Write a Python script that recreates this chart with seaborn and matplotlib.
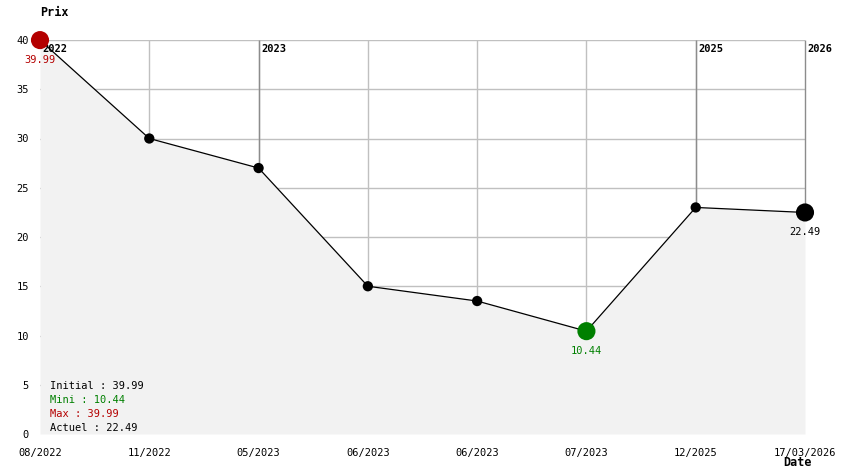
import numpy as np
import pandas as pd
import matplotlib
matplotlib.use("Agg")
import matplotlib.pyplot as plt
import seaborn as sns

# ── données ───────────────────────────────────────────────────────────────────
dates  = ["08/2022", "11/2022", "05/2023", "06/2023", "06/2023", "07/2023", "12/2025", "17/03/2026"]
prices = [39.99, 30.0, 27.0, 15.0, 13.5, 10.44, 23.0, 22.49]
years     = ["2022", "2023", "2025", "2026"]
years_pos = [0, 2, 6, 7]
y_ticks   = [0, 5, 10, 15, 20, 25, 30, 35, 40]

RED   = "#b40000"
GREEN = "#008000"
MONO  = "DejaVu Sans Mono"

sns.set_style("white")
plt.rcParams['font.family'] = [MONO]
plt.rcParams['text.color'] = "black"
plt.rcParams['xtick.color'] = "black"
plt.rcParams['ytick.color'] = "black"

df = pd.DataFrame({"idx": np.arange(len(dates)), "prix": prices, "date": dates})
i_min = int(np.argmin(prices))
i_max = int(np.argmax(prices))
i_last = len(prices) - 1

fig = plt.figure(figsize=(8.44, 4.74), dpi=100)
ax = fig.add_axes([40 / 844, 40 / 474, 765 / 844, 394 / 474])

# grille
for y in y_ticks[1:]:
    ax.axhline(y, color="#c0c0c0", lw=1, zorder=0)
for i in df["idx"][1:-1]:
    ax.axvline(i, color="#c0c0c0", lw=1, zorder=0)
# lignes des années (du point jusqu'en haut)
yr = df.loc[years_pos[1:]]
ax.vlines(yr["idx"], yr["prix"], 40, color="#8c8c8c", lw=1, zorder=0.5, clip_on=False)

# zone remplie + courbe
ax.fill_between(df["idx"], df["prix"], 0, color="#f2f2f2", zorder=1, lw=0)
sns.lineplot(data=df, x="idx", y="prix", color="black", lw=0.9, ax=ax, zorder=2)

# points
small = df.drop(index=[i_min, i_max, i_last])
sns.scatterplot(data=small, x="idx", y="prix", color="black", s=55, ax=ax,
                edgecolor="none", zorder=3)
big = df.loc[[i_min, i_last]]
sns.scatterplot(data=big, x="idx", y="prix", hue="date",
                palette=[GREEN, "black"], s=170, ax=ax,
                edgecolor="none", legend=False, zorder=4, clip_on=False)

# étiquettes de valeurs
for i, c in [(i_max, RED), (i_min, GREEN), (i_last, "black")]:
    ax.annotate(f"{prices[i]:.2f}", (i, prices[i]), xytext=(0, -14),
                textcoords="offset points", ha="center", va="center",
                fontsize=7.5, color=c, zorder=5)

# années
for y_lab, p in zip(years, years_pos):
    ax.annotate(y_lab, (p, 40), xytext=(2, -3), textcoords="offset points",
                ha="left", va="top", fontsize=7.5, fontweight="bold", zorder=3.5)
ax.scatter([i_max], [prices[i_max]], s=170, color=RED, edgecolor="none", zorder=6, clip_on=False)

# résumé
summary = [("Initial : 39.99", "black"), ("Mini : 10.44", GREEN),
           ("Max : 39.99", RED), ("Actuel : 22.49", "black")]
for k, (txt, c) in enumerate(summary):
    fig.text(50 / 844, 1 - (386 + 14 * k) / 474, txt, ha="left", va="center",
             fontsize=7.5, color=c)

ax.set_xlim(0, len(dates) - 1)
ax.set_ylim(0, 40)
ax.set_xticks(df["idx"])
ax.set_xticklabels(dates, fontsize=7.5)
ax.set_yticks(y_ticks)
ax.set_yticklabels([str(v) for v in y_ticks], fontsize=7.5)
ax.tick_params(length=0, pad=8)
ax.tick_params(axis="x", pad=10)
ax.set_xlabel("")
ax.set_ylabel("")
for s in ax.spines.values():
    s.set_visible(False)

fig.text(40 / 844, 1 - 12 / 474, "Prix", fontsize=8.5, fontweight="bold", va="center")
fig.text(783 / 844, 1 - 463 / 474, "Date", fontsize=8.5, fontweight="bold", va="center")

fig.savefig("out.png", dpi=100)
